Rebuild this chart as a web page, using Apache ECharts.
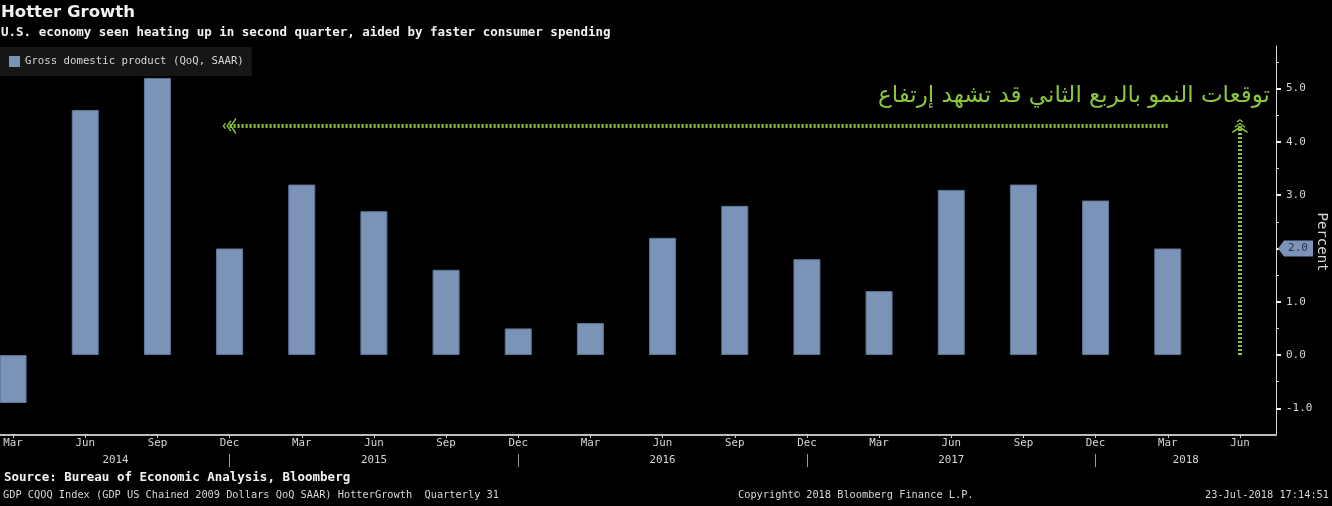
<!DOCTYPE html>
<html>
<head>
<meta charset="utf-8">
<script src="https://cdn.jsdelivr.net/npm/echarts@6/dist/echarts.min.js"></script>
<style>
  html, body { margin: 0; padding: 0; background: #000; }
  #chart { width: 1332px; height: 506px; }
</style>
</head>
<body>
<div id="chart"></div>
<script>
  // quarters shown on the time axis (last one has no data yet)
  var quarters = [
    "Mar 2014", "Jun 2014", "Sep 2014", "Dec 2014",
    "Mar 2015", "Jun 2015", "Sep 2015", "Dec 2015",
    "Mar 2016", "Jun 2016", "Sep 2016", "Dec 2016",
    "Mar 2017", "Jun 2017", "Sep 2017", "Dec 2017",
    "Mar 2018", "Jun 2018"
  ];
  var gdpQoQ = [-0.9, 4.6, 5.2, 2.0, 3.2, 2.7, 1.6, 0.5, 0.6, 2.2, 2.8, 1.8, 1.2, 3.1, 3.2, 2.9, 2.0, null];

  var yearLabels = ["2014", "2015", "2016", "2017", "2018"];
  var yearLabelPos = [1.42, 5, 9, 13, 16.25];   // in quarter-index units
  var yearDividers = [3, 7, 11, 15];
  var yTicks = [-1, 0, 1, 2, 3, 4, 5];
  var yMinorTicks = [-0.5, 0.5, 1.5, 2.5, 3.5, 4.5, 5.5];

  // green annotation arrows (quarter index, percent)
  var hArrow = { from: [3, 4.3], to: [16, 4.3] };
  var vArrow = { from: [17, 0], to: [17, 4.3] };
  var arabicNote = "توقعات النمو بالربع الثاني قد تشهد إرتفاع";

  var BAR = "#7b93b6";
  var GREEN = "#8cc63f";
  var TXT = "#d6d6d6";
  var MONO = "DejaVu Sans Mono";

  var chevron = "path://M10,0 L14,3 L13,4.2 L10,2 L7,4.2 L6,3 Z " +
    "M10,4.5 L17,9.5 L16,10.8 L10,6.6 L4,10.8 L3,9.5 Z " +
    "M10,9 L20,15.6 L19,17 L10,11.2 L1,17 L0,15.6 Z";

  var lastIdx = 16;
  var lastVal = gdpQoQ[lastIdx];

  var chart = echarts.init(document.getElementById("chart"), null, { renderer: "canvas" });

  var option = {
    backgroundColor: "#000000",
    animation: false,
    title: [
      {
        text: "Hotter Growth",
        subtext: "U.S. economy seen heating up in second quarter, aided by faster consumer spending",
        left: 0, top: 0, padding: [4, 0, 0, 1], itemGap: 5,
        textStyle: { color: "#f2f2f2", fontFamily: "DejaVu Sans", fontWeight: "bold", fontSize: 16.5 },
        subtextStyle: { color: "#f2f2f2", fontFamily: MONO, fontWeight: "bold", fontSize: 12.5 }
      },
      {
        text: "Source: Bureau of Economic Analysis, Bloomberg",
        left: 4, top: 471, padding: 0,
        textStyle: { color: "#f2f2f2", fontFamily: MONO, fontWeight: "bold", fontSize: 12.5 }
      },
      {
        text: "GDP CQOQ Index (GDP US Chained 2009 Dollars QoQ SAAR) HotterGrowth  Quarterly 31",
        left: 3, top: 490, padding: 0,
        textStyle: { color: TXT, fontFamily: MONO, fontWeight: "normal", fontSize: 10.3 }
      },
      {
        text: "Copyright\u00a9 2018 Bloomberg Finance L.P.",
        left: 738, top: 490, padding: 0,
        textStyle: { color: TXT, fontFamily: MONO, fontWeight: "normal", fontSize: 10.3 }
      },
      {
        text: "23-Jul-2018 17:14:51",
        right: 3, top: 490, padding: 0,
        textStyle: { color: TXT, fontFamily: MONO, fontWeight: "normal", fontSize: 10.3 }
      }
    ],
    legend: {
      left: 0, top: 47,
      padding: [9, 8, 9, 9],
      backgroundColor: "#161616",
      icon: "rect",
      itemWidth: 11, itemHeight: 11, itemGap: 5,
      itemStyle: { borderWidth: 0 },
      textStyle: { color: TXT, fontFamily: MONO, fontSize: 10.7 },
      data: ["Gross domestic product (QoQ, SAAR)"]
    },
    grid: {
      left: -23, right: 56, top: 46, bottom: 71,
      containLabel: false,
      outerBoundsMode: "none"
    },
    xAxis: [
      {
        type: "category",
        data: quarters,
        position: "bottom",
        boundaryGap: true,
        axisLine: { show: true, onZero: false, lineStyle: { color: "#bdbdbd", width: 2 } },
        axisTick: { show: true, alignWithLabel: true, interval: 0, length: 3, lineStyle: { color: "#d0d0d0" } },
        axisLabel: {
          interval: 0, margin: 3, color: TXT, fontFamily: MONO, fontSize: 10.8,
          formatter: function (v) { return v.split(" ")[0]; }
        },
        splitLine: { show: false }
      },
      {
        type: "value",
        min: -0.5, max: quarters.length - 0.5,
        position: "bottom",
        axisLine: { show: false, onZero: false },
        axisTick: { show: false },
        splitLine: { show: false },
        axisLabel: {
          margin: 20, color: TXT, fontFamily: MONO, fontSize: 10.8,
          customValues: yearLabelPos,
          formatter: function (v) {
            var i = yearLabelPos.indexOf(v);
            return i >= 0 ? yearLabels[i] : "";
          }
        }
      },
      {
        type: "value",
        min: -0.5, max: quarters.length - 0.5,
        position: "bottom",
        offset: 19,
        axisLine: { show: false, onZero: false },
        axisLabel: { show: false },
        splitLine: { show: false },
        axisTick: { show: true, length: 13, customValues: yearDividers, lineStyle: { color: "#9a9a9a", width: 1 } }
      }
    ],
    yAxis: [
      {
        type: "value",
        position: "right",
        min: -1.5, max: 5.8,
        axisLine: { show: true, onZero: false, lineStyle: { color: "#d8d8d8", width: 1 } },
        axisTick: { show: true, length: 5, customValues: yTicks, lineStyle: { color: "#f0f0f0", width: 2 } },
        axisLabel: {
          margin: 10, color: TXT, fontFamily: MONO, fontSize: 11,
          customValues: yTicks,
          formatter: function (v) { return v.toFixed(1); }
        },
        splitLine: { show: false }
      },
      {
        type: "value",
        position: "right",
        min: -1.5, max: 5.8,
        axisLine: { show: false, onZero: false },
        axisLabel: { show: false },
        splitLine: { show: false },
        axisTick: { show: true, length: 3, customValues: yMinorTicks, lineStyle: { color: "#cfcfcf", width: 1 } }
      }
    ],
    series: [
      {
        name: "Gross domestic product (QoQ, SAAR)",
        type: "bar",
        xAxisIndex: 0,
        yAxisIndex: 0,
        data: gdpQoQ,
        barWidth: 27,
        itemStyle: { color: BAR, borderColor: "#5f7597", borderWidth: 1 },
        markLine: {
          silent: true,
          animation: false,
          label: { show: false },
          lineStyle: { color: GREEN, width: 4, type: [2, 2], opacity: 1 },
          data: [
            [
              { coord: hArrow.from, symbol: chevron, symbolSize: [16, 14] },
              { coord: hArrow.to, symbol: "none" }
            ],
            [
              { coord: vArrow.from, symbol: "none" },
              { coord: vArrow.to, symbol: chevron, symbolSize: [16, 14] }
            ]
          ]
        }
      },
      {
        type: "custom",
        xAxisIndex: 0,
        yAxisIndex: 0,
        clip: false,
        silent: true,
        data: [[lastIdx, lastVal]],
        renderItem: function (params, api) {
          var pt = api.coord([api.value(0), api.value(1)]);
          var x0 = params.coordSys.x + params.coordSys.width;
          var y = pt[1];
          return {
            type: "group",
            children: [
              {
                type: "polygon",
                shape: { points: [[x0 + 2, y], [x0 + 8, y - 8], [x0 + 37, y - 8], [x0 + 37, y + 8], [x0 + 8, y + 8]] },
                style: { fill: BAR }
              },
              {
                type: "text",
                style: {
                  x: x0 + 22, y: y, text: api.value(1).toFixed(1),
                  fill: "#26324a", font: "11px " + MONO,
                  align: "center", verticalAlign: "middle"
                }
              }
            ]
          };
        }
      }
    ],
    graphic: [
      {
        type: "text",
        right: 62, top: 85,
        style: {
          text: arabicNote,
          fill: GREEN,
          font: "23px 'DejaVu Sans'"
        }
      },
      {
        type: "text",
        x: 1322, y: 242,
        rotation: -Math.PI / 2,
        style: {
          text: "Percent",
          fill: TXT,
          font: "14px " + MONO,
          align: "center",
          verticalAlign: "middle"
        }
      }
    ]
  };

  chart.setOption(option);
</script>
</body>
</html>
